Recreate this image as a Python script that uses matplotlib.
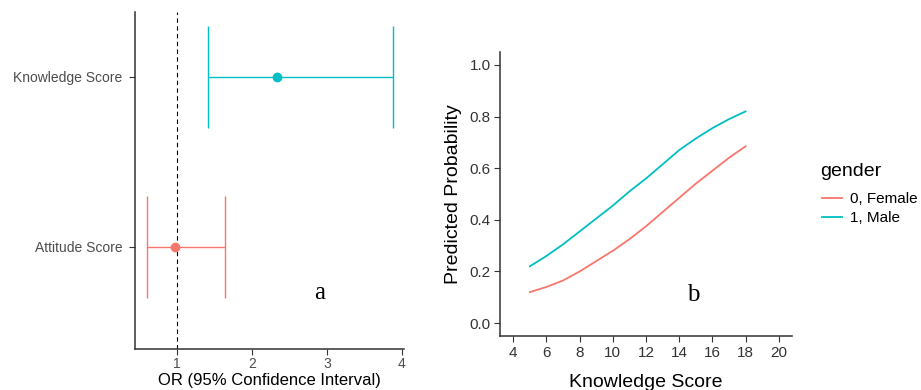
import numpy as np
import matplotlib
matplotlib.use("Agg")
import matplotlib.pyplot as plt

plt.rcParams['font.family'] = ['Liberation Sans', 'DejaVu Sans']

# panel a: odds ratios with 95% CI
terms = ["Attitude Score", "Knowledge Score"]
or_est = [0.97, 2.33]
or_low = [0.60, 1.41]
or_high = [1.64, 3.88]

# panel b: predicted probability by knowledge score and gender
knowledge = [5, 6, 7, 8, 9, 10, 11, 12, 13, 14, 15, 16, 17, 18]
prob_female = [0.12, 0.14, 0.165, 0.20, 0.24, 0.28, 0.325, 0.375, 0.43, 0.485, 0.54, 0.59, 0.64, 0.685]
prob_male = [0.22, 0.26, 0.305, 0.355, 0.405, 0.455, 0.51, 0.56, 0.615, 0.67, 0.715, 0.755, 0.79, 0.82]
gender_labels = ["0, Female", "1, Male"]

red = "#F8766D"
cyan = "#00BFC4"
colors = [red, cyan]

fig = plt.figure(figsize=(9.21, 3.9), dpi=100)

# ---- left panel
ax1 = fig.add_axes([0.1466, 0.1051, 0.292, 0.864])
ypos = np.arange(1, len(terms) + 1)
ax1.axvline(1, color="black", lw=0.8, linestyle=(0, (4, 3)), zorder=1)
for i, y in enumerate(ypos):
    est = or_est[i]
    ax1.errorbar(est, y, xerr=[[est - or_low[i]], [or_high[i] - est]],
                 fmt="o", color=colors[i], ecolor=colors[i], ms=6,
                 elinewidth=1.0, capsize=36.5, capthick=1.0, zorder=2)
ax1.set_xlim(0.44, 4.03)
ax1.set_ylim(0.4, 2.38)
ax1.set_yticks(ypos)
ax1.set_yticklabels(terms)
ax1.set_xticks([1, 2, 3, 4])
ax1.tick_params(axis="y", labelsize=10, colors="#333333", labelcolor="#4d4d4d",
                length=4, width=0.8, pad=5)
ax1.tick_params(axis="x", labelsize=10, colors="#333333", labelcolor="#4d4d4d",
                length=4, width=0.8, pad=2)
ax1.set_xlabel("OR (95% Confidence Interval)", fontsize=12, color="black", va="center")
ax1.xaxis.set_label_coords(0.5, -0.092)
for s in ["top", "right"]:
    ax1.spines[s].set_visible(False)
for s in ["left", "bottom"]:
    ax1.spines[s].set_color("#333333")
    ax1.spines[s].set_linewidth(1.1)
ax1.text(0.686, 0.165, "a", transform=ax1.transAxes, fontsize=18,
         family="Liberation Serif", ha="center", va="center")

# ---- right panel
ax2 = fig.add_axes([0.5429, 0.1385, 0.317, 0.728])
ax2.plot(knowledge, prob_female, color=red, lw=1.3, label=gender_labels[0])
ax2.plot(knowledge, prob_male, color=cyan, lw=1.3, label=gender_labels[1])
ax2.set_xlim(3.2, 20.8)
ax2.set_ylim(-0.05, 1.05)
ax2.set_xticks(np.arange(4, 21, 2))
ax2.set_yticks([0.0, 0.2, 0.4, 0.6, 0.8, 1.0])
ax2.set_yticklabels(["0.0", "0.2", "0.4", "0.6", "0.8", "1.0"])
ax2.tick_params(axis="both", labelsize=11, colors="#333333", labelcolor="#333333",
                length=4, width=0.8)
ax2.tick_params(axis="y", pad=2.5)
ax2.tick_params(axis="x", pad=3.5)
ax2.set_xlabel("Knowledge Score", fontsize=14, va="center")
ax2.xaxis.set_label_coords(0.5, -0.165)
ax2.set_ylabel("Predicted Probability", fontsize=14, va="center")
ax2.yaxis.set_label_coords(-0.161, 0.5)
for s in ["top", "right"]:
    ax2.spines[s].set_visible(False)
for s in ["left", "bottom"]:
    ax2.spines[s].set_color("#333333")
    ax2.spines[s].set_linewidth(1.1)
ax2.text(0.661, 0.145, "b", transform=ax2.transAxes, fontsize=18,
         family="Liberation Serif", ha="center", va="center")

# legend (title drawn separately to match spacing)
fig.text(820 / 921, 1 - 172 / 390, "gender", fontsize=14, ha="left", va="center")
ax2.legend(loc="center left", bbox_to_anchor=(1.103, 0.448),
           frameon=False, fontsize=11, handlelength=1.3, handletextpad=0.5,
           labelspacing=0.35, borderaxespad=0, borderpad=0)

fig.savefig("out.png", dpi=100)
